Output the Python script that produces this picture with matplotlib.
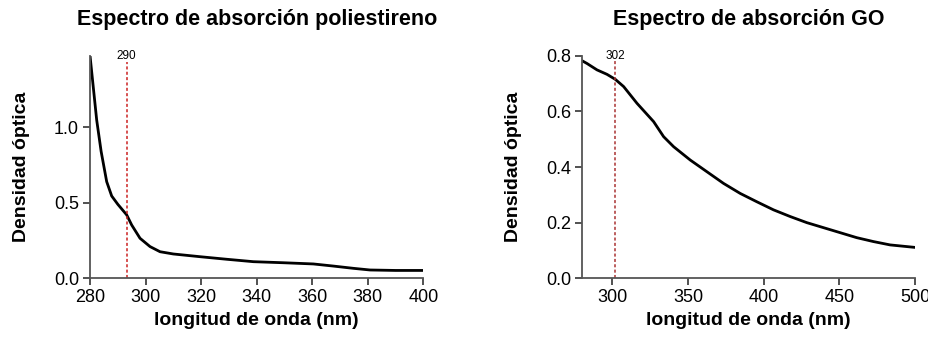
import matplotlib.pyplot as plt

plt.rcParams['font.family'] = ['Liberation Sans', 'DejaVu Sans']

# ── DATA ─────────────────────────────────────────────────
# polystyrene absorption spectrum
ps_wl = [280, 282.4, 284, 286.0, 287.8, 290, 293.2, 295, 298, 301.6, 305.2, 310,
         319.6, 329.2, 338.8, 349.6, 360.4, 367.6, 374.8, 380.8, 390, 400]
ps_od = [1.474, 1.048, 0.84, 0.64, 0.545, 0.49, 0.42, 0.353, 0.265, 0.21, 0.176, 0.161,
         0.143, 0.126, 0.110, 0.103, 0.095, 0.081, 0.066, 0.055, 0.052, 0.052]
ps_peak = 293.2
ps_peak_label = "290"

# graphene oxide absorption spectrum
go_wl = [280, 283.3, 289.9, 296.5, 302, 307.5, 316.3, 327.3, 333.9, 340.5, 351.5,
         362.5, 373.5, 384.5, 395.5, 406.5, 417.5, 428.5, 439.5, 450.5, 461.5,
         472.5, 483.5, 500]
go_od = [0.782, 0.772, 0.749, 0.733, 0.715, 0.689, 0.629, 0.563, 0.509, 0.473, 0.425,
         0.383, 0.341, 0.305, 0.275, 0.246, 0.222, 0.200, 0.182, 0.164, 0.146,
         0.132, 0.120, 0.111]
go_peak = 302
go_peak_label = "302"

# ── FIGURE ───────────────────────────────────────────────
fig = plt.figure(figsize=(9.29, 3.37), dpi=100)
ax1 = fig.add_axes([0.0969, 0.1742, 0.3588, 0.6605])
ax2 = fig.add_axes([0.6265, 0.1742, 0.3585, 0.6605])


def style(ax, title):
    for s in ['top', 'right']:
        ax.spines[s].set_visible(False)
    for s in ['left', 'bottom']:
        ax.spines[s].set_color('#555555')
        ax.spines[s].set_linewidth(1.3)
    ax.tick_params(direction='out', length=5, width=1.1, labelsize=13,
                   color='#222222', pad=3)
    ax.set_title(title, fontsize=15.5, fontweight='bold', pad=22)
    ax.set_xlabel('longitud de onda (nm)', fontsize=14, fontweight='bold', labelpad=4)
    ax.set_ylabel('Densidad óptica', fontsize=14, fontweight='bold', labelpad=17)


# left panel
ax1.plot(ps_wl, ps_od, color='black', lw=2)
ax1.vlines(ps_peak, 0, 1.43, color='#cc2222', ls=(0, (2, 1.5)), lw=1.1)
ax1.text(ps_peak, 1.474, ps_peak_label, ha='center', va='center', fontsize=8.5)
ax1.set_xlim(280, 400)
ax1.set_ylim(0, 1.474)
ax1.set_xticks(range(280, 401, 20))
ax1.set_yticks([0.0, 0.5, 1.0])
ax1.set_yticklabels(['0.0', '0.5', '1.0'])
style(ax1, 'Espectro de absorción poliestireno')

# right panel
ax2.plot(go_wl, go_od, color='black', lw=2)
ax2.vlines(go_peak, 0, 0.78, color='#aa3333', ls=(0, (2, 1.5)), lw=1.1)
ax2.text(go_peak, 0.8, go_peak_label, ha='center', va='center', fontsize=8.5)
ax2.set_xlim(280, 500)
ax2.set_ylim(0, 0.8)
ax2.set_xticks(range(300, 501, 50))
ax2.set_yticks([0.0, 0.2, 0.4, 0.6, 0.8])
ax2.set_yticklabels(['0.0', '0.2', '0.4', '0.6', '0.8'])
style(ax2, 'Espectro de absorción GO')

fig.savefig('out.png', dpi=100)
